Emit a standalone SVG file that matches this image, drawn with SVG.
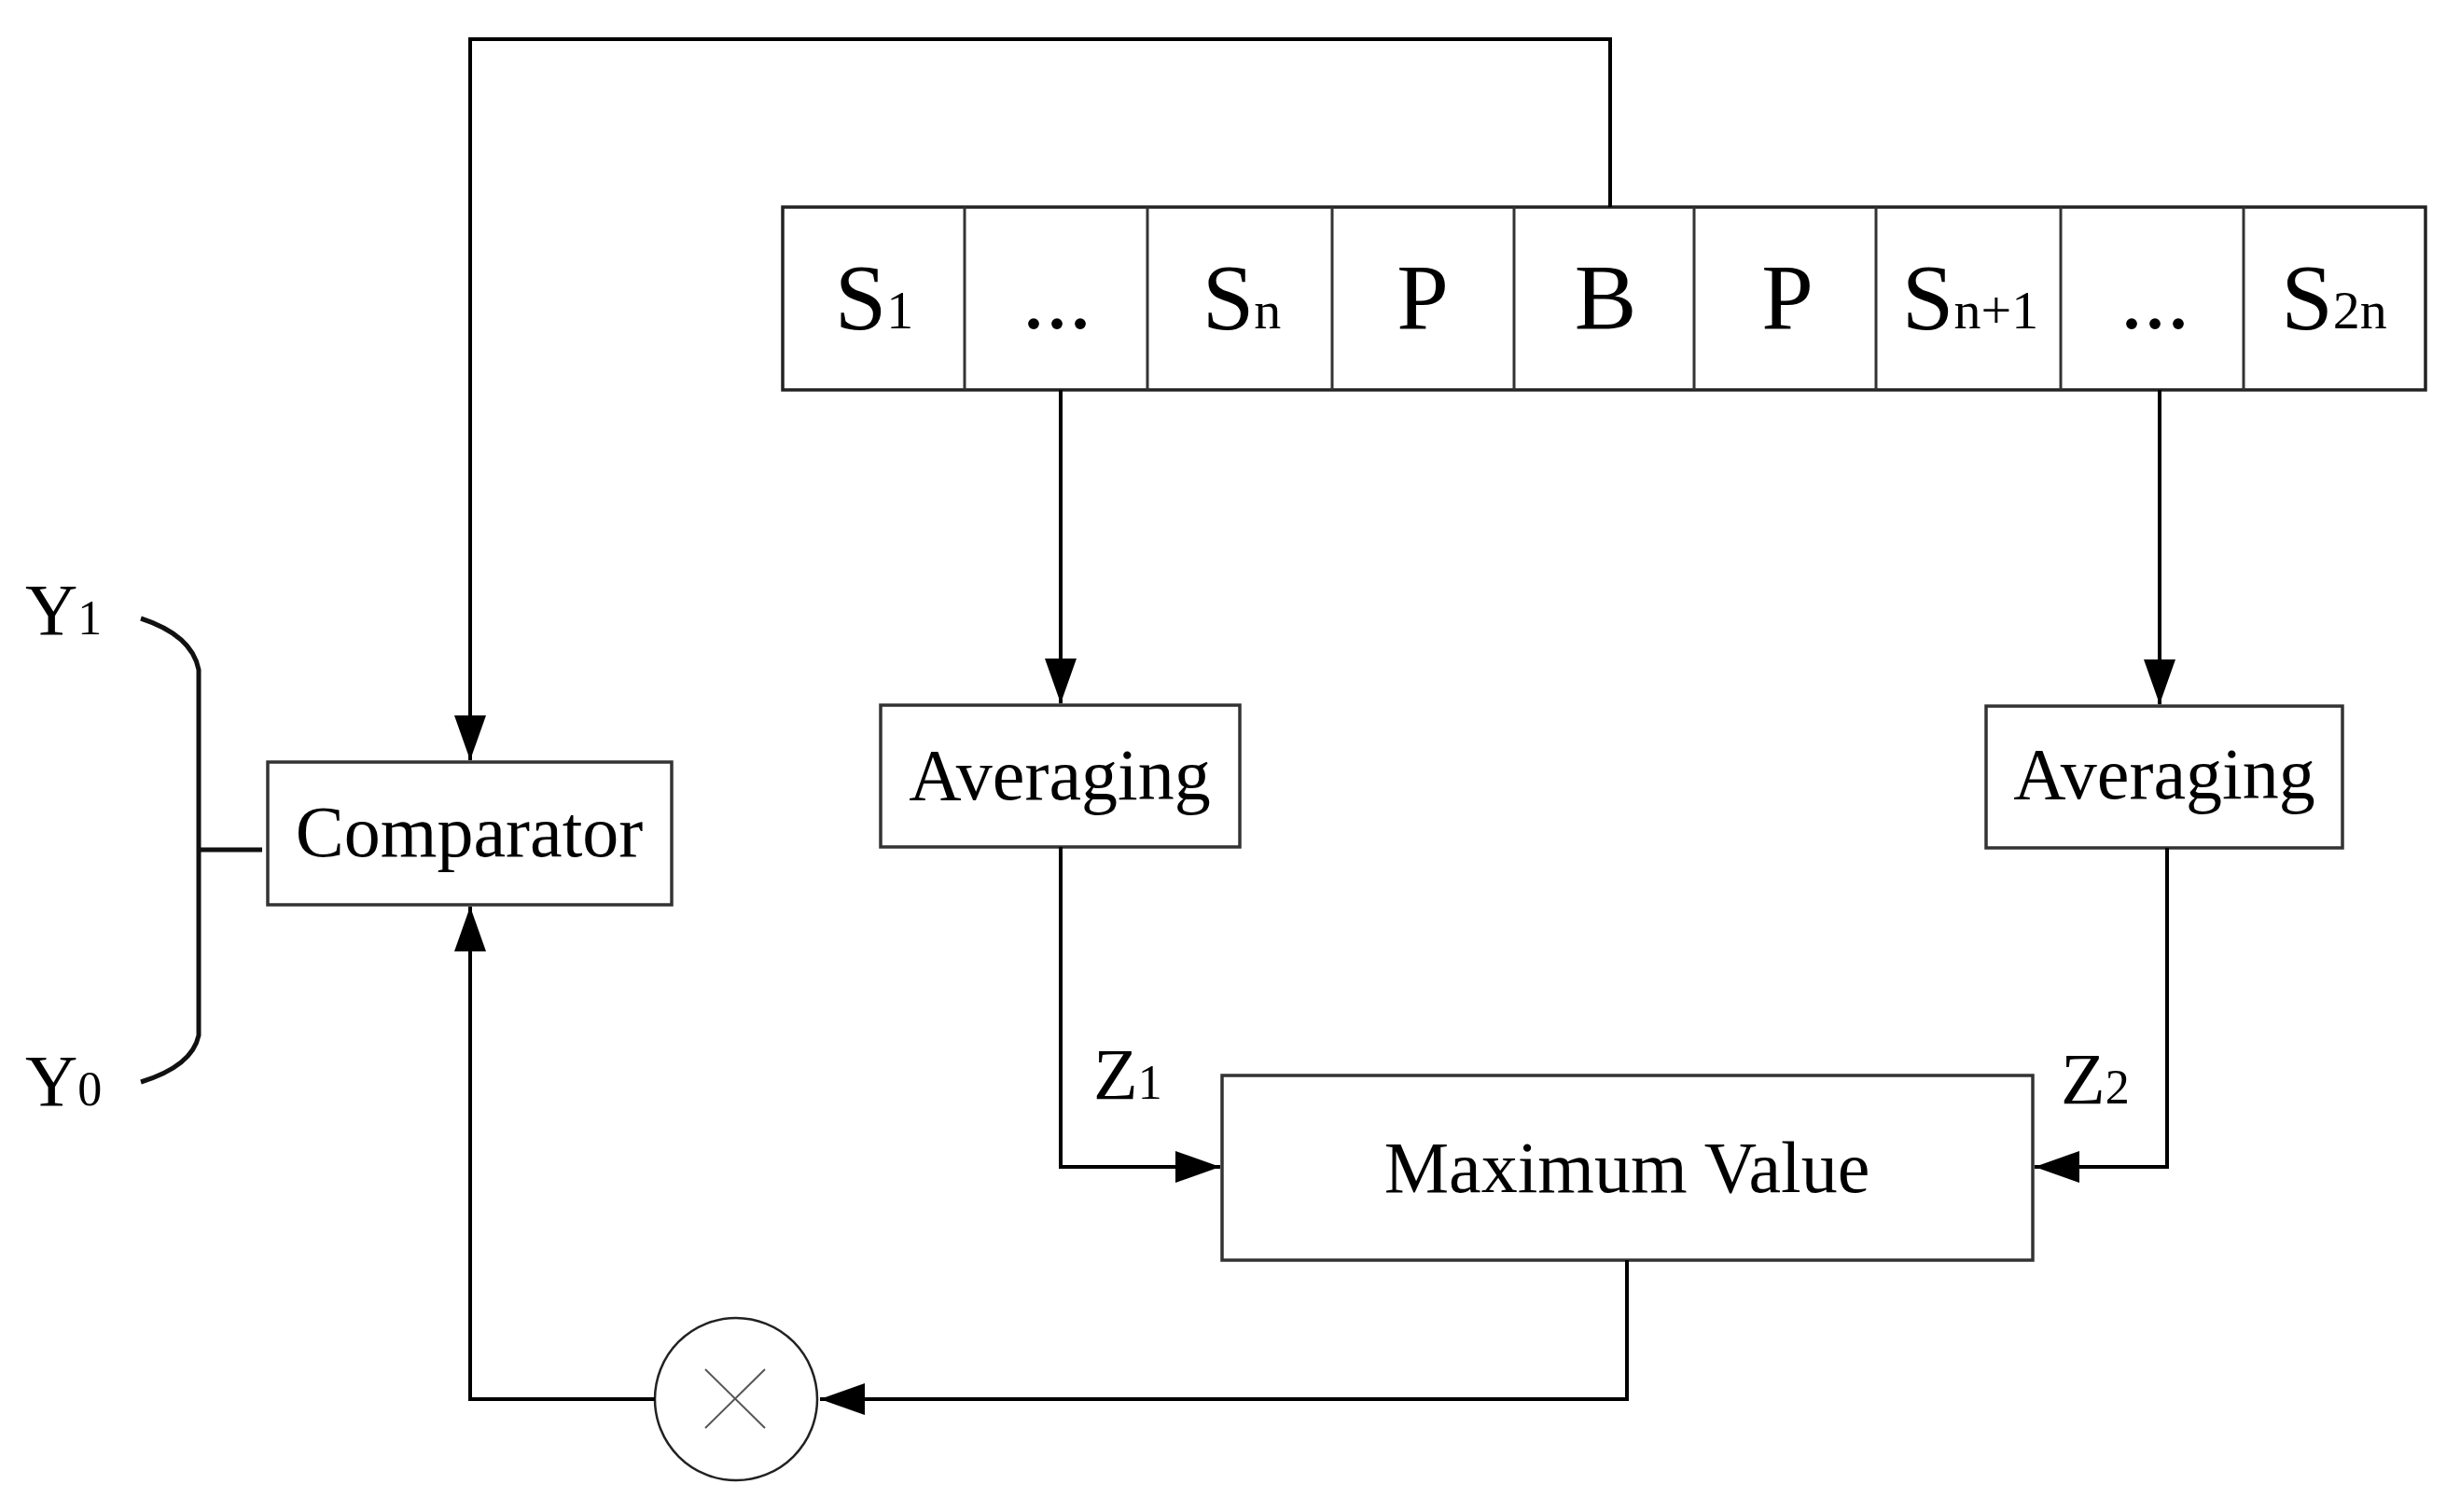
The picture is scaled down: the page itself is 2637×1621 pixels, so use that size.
<svg xmlns="http://www.w3.org/2000/svg" width="2637" height="1621" viewBox="0 0 2637 1621">
<style>
text{font-family:"Liberation Serif","Times New Roman",serif;fill:#000}
.cell{font-size:100px;text-anchor:middle}
.lbl{font-size:78px}
.mid{text-anchor:middle}
.box{fill:#fff;stroke:#333;stroke-width:3.5}
.conn{fill:none;stroke:#000;stroke-width:4}
</style>
<defs>
<marker id="arr" markerUnits="userSpaceOnUse" markerWidth="50" markerHeight="36" refX="48" refY="17" orient="auto">
<path d="M0,0 L48,17 L0,34 z" fill="#000"/>
</marker>
</defs>
<rect width="2637" height="1621" fill="#fff"/>
<g id="frame">
<rect x="839" y="222" width="1761" height="196" fill="#fff" stroke="#222" stroke-width="3.5"/>
<g stroke="#333" stroke-width="3">
<line x1="1034" y1="222" x2="1034" y2="418"/>
<line x1="1230" y1="222" x2="1230" y2="418"/>
<line x1="1428" y1="222" x2="1428" y2="418"/>
<line x1="1623" y1="222" x2="1623" y2="418"/>
<line x1="1816" y1="222" x2="1816" y2="418"/>
<line x1="2011" y1="222" x2="2011" y2="418"/>
<line x1="2209" y1="222" x2="2209" y2="418"/>
<line x1="2405" y1="222" x2="2405" y2="418"/>
</g>
<text class="cell" x="937" y="352">S<tspan font-size="58">1</tspan></text>
<text class="cell" x="1133" y="352" font-size="80">...</text>
<text class="cell" x="1331" y="352">S<tspan font-size="58">n</tspan></text>
<text class="cell" x="1525" y="352">P</text>
<text class="cell" x="1721" y="352">B</text>
<text class="cell" x="1916" y="352">P</text>
<text class="cell" x="2112" y="352">S<tspan font-size="58">n+1</tspan></text>
<text class="cell" x="2310" y="352" font-size="80">...</text>
<text class="cell" x="2502" y="352">S<tspan font-size="58">2n</tspan></text>
</g>
<g id="comparator">
<rect class="box" x="287" y="817" width="433" height="153"/>
<text class="lbl mid" x="503" y="918">Comparator</text>
</g>
<g id="averaging1">
<rect class="box" x="944" y="756" width="385" height="152"/>
<text class="lbl mid" x="1136" y="857">Averaging</text>
</g>
<g id="averaging2">
<rect class="box" x="2129" y="757" width="382" height="152"/>
<text class="lbl mid" x="2320" y="856">Averaging</text>
</g>
<g id="maxvalue">
<rect class="box" x="1310" y="1153" width="869" height="198"/>
<text class="lbl mid" x="1744" y="1278">Maximum Value</text>
</g>
<g id="multiplier">
<circle cx="789" cy="1500" r="87" fill="#fff" stroke="#222" stroke-width="2.5"/>
<line x1="756" y1="1468" x2="820" y2="1531" stroke="#555" stroke-width="2"/>
<line x1="820" y1="1468" x2="756" y2="1531" stroke="#555" stroke-width="2"/>
</g>
<g id="bracket">
<path d="M151,663 Q206,681 213,718 L213,1110 Q206,1143 151,1160" fill="none" stroke="#111" stroke-width="5"/>
<line x1="213" y1="911" x2="281" y2="911" stroke="#111" stroke-width="5"/>
<text class="lbl" x="27" y="680">Y<tspan font-size="52">1</tspan></text>
<text class="lbl" x="27" y="1185">Y<tspan font-size="52">0</tspan></text>
</g>
<g id="connectors">
<path class="conn" d="M1726,222 L1726,42 L504,42 L504,815" marker-end="url(#arr)"/>
<path class="conn" d="M1137,418 L1137,754" marker-end="url(#arr)"/>
<path class="conn" d="M2315,418 L2315,755" marker-end="url(#arr)"/>
<path class="conn" d="M1137,908 L1137,1251 L1308,1251" marker-end="url(#arr)"/>
<path class="conn" d="M2323,909 L2323,1251 L2181,1251" marker-end="url(#arr)"/>
<path class="conn" d="M1744,1351 L1744,1500 L879,1500" stroke-width="3.5" marker-end="url(#arr)"/>
<path class="conn" d="M702,1500 L504,1500 L504,972" marker-end="url(#arr)"/>
<text class="lbl" x="1172" y="1178">Z<tspan font-size="52">1</tspan></text>
<text class="lbl" x="2209" y="1183">Z<tspan font-size="52">2</tspan></text>
</g>
</svg>
